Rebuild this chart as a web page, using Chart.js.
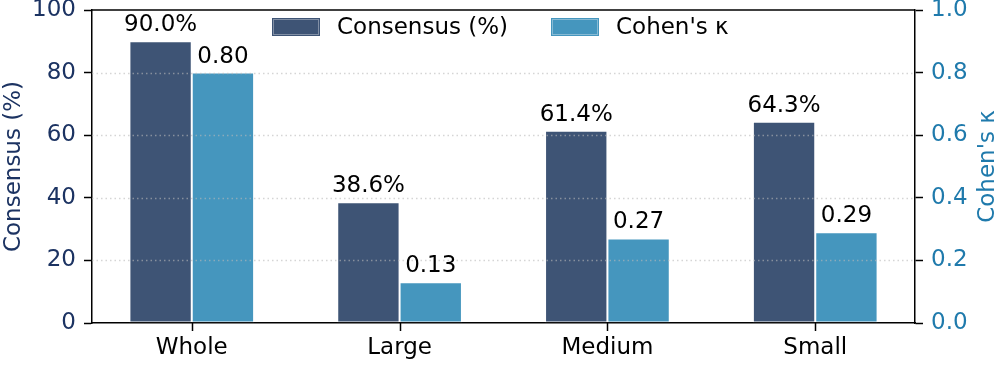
<!DOCTYPE html>
<html><head><meta charset="utf-8">
<script src="https://cdn.jsdelivr.net/npm/chart.js@4.4.1/dist/chart.umd.min.js"></script>
<style>html,body{margin:0;padding:0;background:#fff}canvas{display:block}</style>
</head><body>
<canvas id="c" width="996" height="365"></canvas>
<script>
const categories = ['Whole', 'Large', 'Medium', 'Small'];
const consensus = [90.0, 38.6, 61.4, 64.3];
const kappa = [0.80, 0.13, 0.27, 0.29];
const leftTicks = [0, 20, 40, 60, 80, 100];
const rightTicks = [0, 0.2, 0.4, 0.6, 0.8, 1.0];
const seriesLabels = ['Consensus (%)', "Cohen's κ"];
const axisTitles = ['Consensus (%)', "Cohen's κ"];

const FONT = "'DejaVu Sans', sans-serif";
const FS = 23;
const C1 = '#3e5475', C2 = '#4596be';
const LEFT_COLOR = '#1c3362', RIGHT_COLOR = '#1f7aac';

const catIndex = categories.map((c, i) => i);

const extras = {
  id: 'extras',
  afterDatasetsDraw(chart) {
    const ctx = chart.ctx, ca = chart.chartArea;
    const ys = chart.scales.y;
    ctx.save();
    // dotted grid lines (drawn over bars, translucent)
    ctx.strokeStyle = 'rgba(185,185,185,0.6)';
    ctx.lineWidth = 1.3;
    ctx.setLineDash([1.5, 3]);
    leftTicks.forEach(v => {
      if (v === leftTicks[0] || v === leftTicks[leftTicks.length - 1]) return;
      const y = Math.round(ys.getPixelForValue(v)) + 0.5;
      ctx.beginPath(); ctx.moveTo(ca.left, y); ctx.lineTo(ca.right, y); ctx.stroke();
    });
    ctx.setLineDash([]);
    // top frame
    ctx.strokeStyle = '#000'; ctx.lineWidth = 1.5;
    ctx.beginPath(); ctx.moveTo(ca.left, ca.top); ctx.lineTo(ca.right, ca.top); ctx.stroke();
    // data labels
    ctx.font = FS + 'px ' + FONT;
    ctx.fillStyle = '#000';
    ctx.textAlign = 'center';
    ctx.textBaseline = 'alphabetic';
    chart.data.datasets.forEach((ds, di) => {
      const meta = chart.getDatasetMeta(di);
      meta.data.forEach((el, i) => {
        const v = ds.data[i].y;
        const txt = di === 0 ? v.toFixed(1) + '%' : v.toFixed(2);
        ctx.fillText(txt, el.x, el.y - 10);
      });
    });
    // legend
    const items = [
      {box: 272, text: 337, color: C1, label: seriesLabels[0]},
      {box: 551, text: 616, color: C2, label: seriesLabels[1]}
    ];
    ctx.textAlign = 'left';
    ctx.textBaseline = 'middle';
    items.forEach(it => {
      ctx.fillStyle = it.color;
      ctx.fillRect(it.box, 18, 48, 18);
      ctx.strokeStyle = 'rgba(255,255,255,0.35)'; ctx.lineWidth = 1;
      ctx.strokeRect(it.box + 1.5, 19.5, 45, 15);
      ctx.fillStyle = '#000';
      ctx.fillText(it.label, it.text, 28);
    });
    // right axis title
    ctx.save();
    ctx.translate(988, (ca.top + ca.bottom) / 2);
    ctx.rotate(-Math.PI / 2);
    ctx.textAlign = 'center';
    ctx.textBaseline = 'middle';
    ctx.fillStyle = RIGHT_COLOR;
    ctx.fillText(axisTitles[1], 0, 0);
    ctx.restore();
    ctx.restore();
  },
  afterDraw(chart) {
    const ctx = chart.ctx, ca = chart.chartArea, xs = chart.scales.x;
    ctx.save();
    ctx.strokeStyle = '#000'; ctx.lineWidth = 1.5;
    catIndex.forEach(i => {
      const x = Math.round(xs.getPixelForValue(i)) + 0.5;
      ctx.beginPath(); ctx.moveTo(x, ca.bottom); ctx.lineTo(x, ca.bottom + 8); ctx.stroke();
    });
    ctx.restore();
  }
};

new Chart(document.getElementById('c'), {
  type: 'bar',
  data: {
    datasets: [
      {label: seriesLabels[0], data: consensus.map((v, i) => ({x: catIndex[i], y: v})), yAxisID: 'y', backgroundColor: C1,
       borderColor: 'rgba(255,255,255,0.22)', borderWidth: 1, borderSkipped: false,
       categoryPercentage: 0.6, barPercentage: 1.0},
      {label: seriesLabels[1], data: kappa.map((v, i) => ({x: catIndex[i], y: v})), yAxisID: 'y1', backgroundColor: C2,
       borderColor: 'rgba(255,255,255,0.22)', borderWidth: 1, borderSkipped: false,
       categoryPercentage: 0.6, barPercentage: 1.0}
    ]
  },
  options: {
    responsive: false,
    animation: false,
    devicePixelRatio: 1,
    layout: {padding: {top: 10, left: 0, right: 0, bottom: 0}},
    plugins: {legend: {display: false}, tooltip: {enabled: false}},
    scales: {
      x: {
        type: 'linear', min: -0.48, max: 3.48, offset: false,
        afterBuildTicks(s) { s.ticks = catIndex.map(v => ({value: v})); },
        grid: {offset: false, drawOnChartArea: false, drawTicks: true, tickLength: 8, tickColor: 'rgba(0,0,0,0)', tickWidth: 1.5},
        border: {display: true, color: '#000', width: 1.5},
        ticks: {font: {family: FONT, size: FS}, color: '#000', padding: 3, maxRotation: 0,
                callback: v => categories[Math.round(v)] ?? ''},
        afterFit(s) { s.height = 42; s.paddingLeft = 0; s.paddingRight = 0; }
      },
      y: {
        position: 'left', min: 0, max: 100,
        afterBuildTicks(s) { s.ticks = leftTicks.map(v => ({value: v})); },
        grid: {drawOnChartArea: false, tickLength: 8, tickColor: '#000', tickWidth: 1.5},
        border: {display: true, color: '#000', width: 1.5},
        ticks: {font: {family: FONT, size: FS}, color: LEFT_COLOR, padding: 8},
        title: {display: true, text: axisTitles[0], color: LEFT_COLOR, font: {family: FONT, size: FS}, padding: {top: 0, bottom: 0}},
        afterFit(s) { s.width = 92; s.paddingTop = 0; s.paddingBottom = 0; }
      },
      y1: {
        position: 'right', min: 0, max: 1,
        afterBuildTicks(s) { s.ticks = rightTicks.map(v => ({value: v})); },
        grid: {drawOnChartArea: false, tickLength: 8, tickColor: '#000', tickWidth: 1.5},
        border: {display: true, color: '#000', width: 1.5},
        ticks: {font: {family: FONT, size: FS}, color: RIGHT_COLOR, padding: 8, callback: v => Number(v).toFixed(1)},
        afterFit(s) { s.width = 81; s.paddingTop = 0; s.paddingBottom = 0; }
      }
    }
  },
  plugins: [extras]
});
</script>
</body></html>
